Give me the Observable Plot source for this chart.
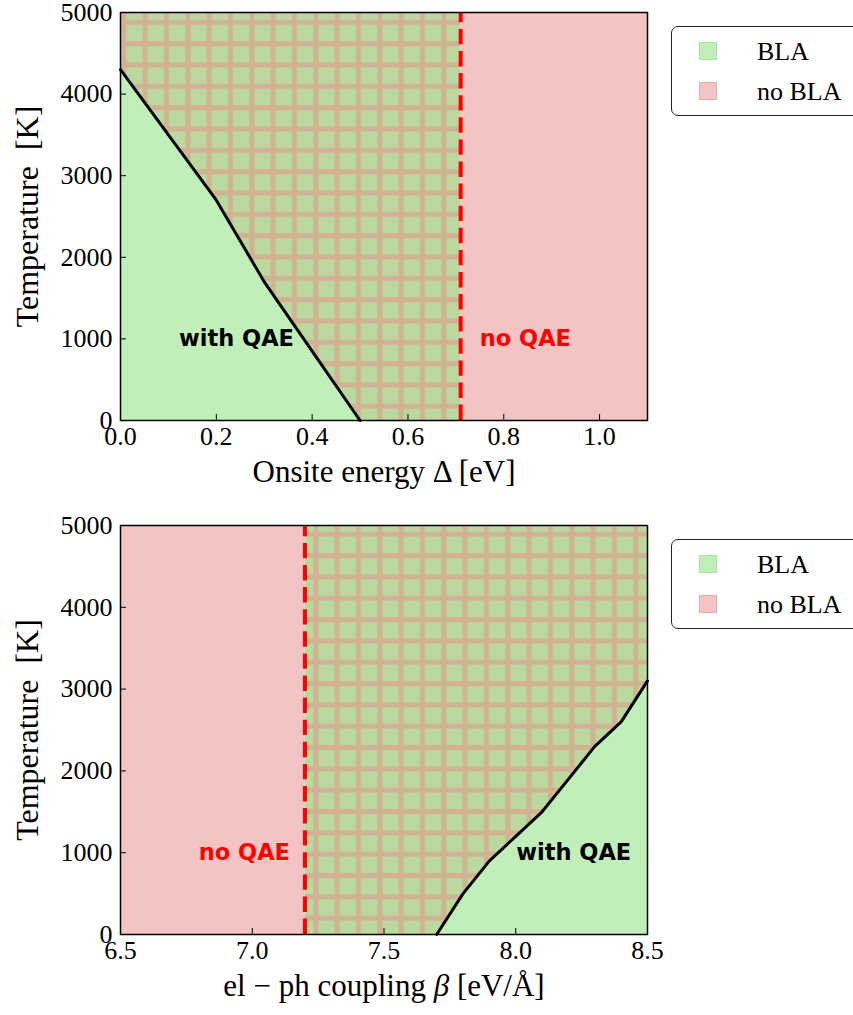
<!DOCTYPE html>
<html>
<head>
<meta charset="utf-8">
<script src="https://cdn.jsdelivr.net/npm/d3@7"></script>
<script src="https://cdn.jsdelivr.net/npm/@observablehq/plot@0.6"></script>
<style>
  body { margin: 0; background: #fff; }
  #page { position: relative; width: 853px; height: 1015px; overflow: hidden; background: #fff; }
  .panel { position: absolute; left: 0; }
  .legend {
    position: absolute; left: 671px; width: 220px; height: 90px;
    border: 1.5px solid #222; border-radius: 7px; background: #fff; box-sizing: border-box;
    font-family: "Liberation Serif", serif; font-size: 26px; color: #000;
  }
  .swatch { position: absolute; left: 27px; width: 18px; height: 18px; box-sizing: border-box; border: 1.5px solid; }
  .name { position: absolute; left: 85px; line-height: 26px; white-space: pre; }
</style>
</head>
<body>
<div id="page"></div>
<script>
// ---- data ----
const tempTicks = [0, 1000, 2000, 3000, 4000, 5000];
const tempDomain = [0, 5000];

// Panel 1: onsite energy Δ
const deltaDomain = [0, 1.1];
const deltaTicks = [0.0, 0.2, 0.4, 0.6, 0.8, 1.0];
const deltaX = [0.0, 0.1, 0.2, 0.3, 0.4, 0.5];          // BLA boundary, Δ [eV]
const deltaT = [4300, 3500, 2700, 1700, 850, 0];         // BLA boundary, T [K]
const deltaQAE = 0.71;                                   // QAE limit in Δ
const deltaLabelX = [0.242, 0.845];

// Panel 2: el-ph coupling β
const betaDomain = [6.5, 8.5];
const betaTicks = [6.5, 7.0, 7.5, 8.0, 8.5];
const betaX = [7.7, 7.8, 7.9, 8.0, 8.1, 8.2, 8.3, 8.4, 8.5]; // BLA boundary, β [eV/Å]
const betaT = [0, 500, 900, 1200, 1500, 1900, 2300, 2600, 3100];
const betaQAE = 7.2;                                         // QAE limit in β
const betaLabelX = [6.97, 8.22];

const labelT = 1000;
const labelText = ["with QAE", "no QAE"];
const legendNames = ["BLA", "no BLA"];

// ---- styles ----
const GREEN = "#c1efb9", GREEN_EDGE = "#a7e49c";
const PINK = "#f4c3c3", PINK_EDGE = "#eeabab";
const HATCH_BG = "#bbd89f", HATCH_LINE = "#d1b394";
const HATCH = 21.33, HATCH_W = 5;

const page = document.getElementById("page");
const ns = "http://www.w3.org/2000/svg";

function addHatch(svg, id, panelTop) {
  const defs = document.createElementNS(ns, "defs");
  const p = document.createElementNS(ns, "pattern");
  p.setAttribute("id", id);
  p.setAttribute("patternUnits", "userSpaceOnUse");
  p.setAttribute("width", HATCH);
  p.setAttribute("height", HATCH);
  p.setAttribute("x", 14.7);
  p.setAttribute("y", -1.5 - panelTop);
  const parts = [
    [0, 0, HATCH, HATCH, HATCH_BG],
    [0, 0, HATCH_W, HATCH, HATCH_LINE],
    [0, 0, HATCH, HATCH_W, HATCH_LINE]
  ];
  for (const [x, y, w, h, f] of parts) {
    const r = document.createElementNS(ns, "rect");
    r.setAttribute("x", x); r.setAttribute("y", y);
    r.setAttribute("width", w); r.setAttribute("height", h);
    r.setAttribute("fill", f);
    p.appendChild(r);
  }
  defs.appendChild(p);
  svg.insertBefore(defs, svg.firstChild);
}

function italicBeta(svg) {
  svg.querySelectorAll("text").forEach(t => {
    if (t.childElementCount === 0 && t.textContent.includes("β")) {
      const parts = t.textContent.split("β");
      t.textContent = "";
      parts.forEach((s, i) => {
        if (i > 0) {
          const b = document.createElementNS(ns, "tspan");
          b.setAttribute("font-style", "italic");
          b.textContent = "β";
          t.appendChild(b);
        }
        const sp = document.createElementNS(ns, "tspan");
        sp.textContent = s;
        t.appendChild(sp);
      });
    }
  });
}

function addLegend(top) {
  const box = document.createElement("div");
  box.className = "legend";
  box.style.top = top + "px";
  const fills = [GREEN, PINK], edges = [GREEN_EDGE, PINK_EDGE];
  legendNames.forEach((n, i) => {
    const sw = document.createElement("div");
    sw.className = "swatch";
    sw.style.top = (15 + 40 * i) + "px";
    sw.style.background = fills[i];
    sw.style.borderColor = edges[i];
    box.appendChild(sw);
    const tx = document.createElement("div");
    tx.className = "name";
    tx.style.top = (12 + 40 * i) + "px";
    tx.textContent = n;
    box.appendChild(tx);
  });
  page.appendChild(box);
}

function panel({top, height, marginTop, marginBottom, xDomain, xTicks, xFormat,
                bX, bT, qae, pinkRange, hatchRows, labelX, labelColors, xLabel, hatchId}) {
  const boundary = bX.map((x, i) => ({x, t: bT[i]}));
  const labels = labelX.map((x, i) => ({x, text: labelColors[i].text, color: labelColors[i].color}));
  const svg = Plot.plot({
    width: 853, height,
    marginTop, marginBottom, marginLeft: 120, marginRight: 206,
    style: {fontFamily: "'Liberation Serif', serif", fontSize: "26px", color: "#000", background: "transparent", overflow: "visible"},
    x: {domain: xDomain, label: null},
    y: {domain: tempDomain, label: null},
    marks: [
      Plot.rect([pinkRange], {x1: d => d[0], x2: d => d[1], y1: tempDomain[0], y2: tempDomain[1], fill: PINK}),
      Plot.areaY(hatchRows, {x: "x", y1: "t", y2: tempDomain[1], fill: `url(#${hatchId})`}),
      Plot.areaY(boundary, {x: "x", y1: 0, y2: "t", fill: GREEN}),
      Plot.line(boundary, {x: "x", y: "t", stroke: "#000", strokeWidth: 3}),
      Plot.ruleX([qae], {y1: tempDomain[0], y2: tempDomain[1], stroke: "#ff0000", strokeWidth: 4, strokeDasharray: "15.4,6.7"}),
      Plot.text(labels, {x: "x", y: labelT, text: "text", fill: "color",
        fontFamily: "'DejaVu Sans', sans-serif", fontWeight: "bold", fontSize: 22.5, lineAnchor: "middle"}),
      Plot.frame({stroke: "#000", strokeWidth: 1.5}),
      Plot.axisX(xTicks, {tickSize: -6, tickPadding: 12, tickFormat: xFormat, label: null, fontSize: 26}),
      Plot.axisY(tempTicks, {tickSize: -6, tickPadding: 14, tickFormat: d => String(d), label: null, fontSize: 26}),
      Plot.text([xLabel], {frameAnchor: "bottom", dy: 52, fontSize: 31, lineAnchor: "middle"}),
      Plot.text(["Temperature\u00A0\u00A0[K]"], {frameAnchor: "left", rotate: -90, dx: -93, fontSize: 32,
        textAnchor: "middle", lineAnchor: "middle"})
    ]
  });
  addHatch(svg, hatchId, top);
  italicBeta(svg);
  svg.classList.add("panel");
  svg.style.top = top + "px";
  page.appendChild(svg);
}

// hatched (mixed) regions: from boundary up to the top, limited by the QAE line
const deltaHatch = deltaX.map((x, i) => ({x, t: deltaT[i]})).concat([{x: deltaQAE, t: 0}]);
const betaHatch = [{x: betaQAE, t: 0}].concat(betaX.map((x, i) => ({x, t: betaT[i]})));

panel({
  top: 0, height: 510, marginTop: 12, marginBottom: 90,
  xDomain: deltaDomain, xTicks: deltaTicks, xFormat: d3.format(".1f"),
  bX: deltaX, bT: deltaT, qae: deltaQAE, pinkRange: [deltaQAE, deltaDomain[1]],
  hatchRows: deltaHatch, labelX: deltaLabelX,
  labelColors: [{text: labelText[0], color: "#000"}, {text: labelText[1], color: "#ff0000"}],
  xLabel: "Onsite energy Δ [eV]", hatchId: "hatch-delta"
});

panel({
  top: 510, height: 505, marginTop: 15, marginBottom: 81,
  xDomain: betaDomain, xTicks: betaTicks, xFormat: d3.format(".1f"),
  bX: betaX, bT: betaT, qae: betaQAE, pinkRange: [betaDomain[0], betaQAE],
  hatchRows: betaHatch, labelX: betaLabelX,
  labelColors: [{text: labelText[1], color: "#ff0000"}, {text: labelText[0], color: "#000"}],
  xLabel: "el \u2212 ph coupling β [eV/Å]", hatchId: "hatch-beta"
});

addLegend(26);
addLegend(539);
</script>
</body>
</html>
